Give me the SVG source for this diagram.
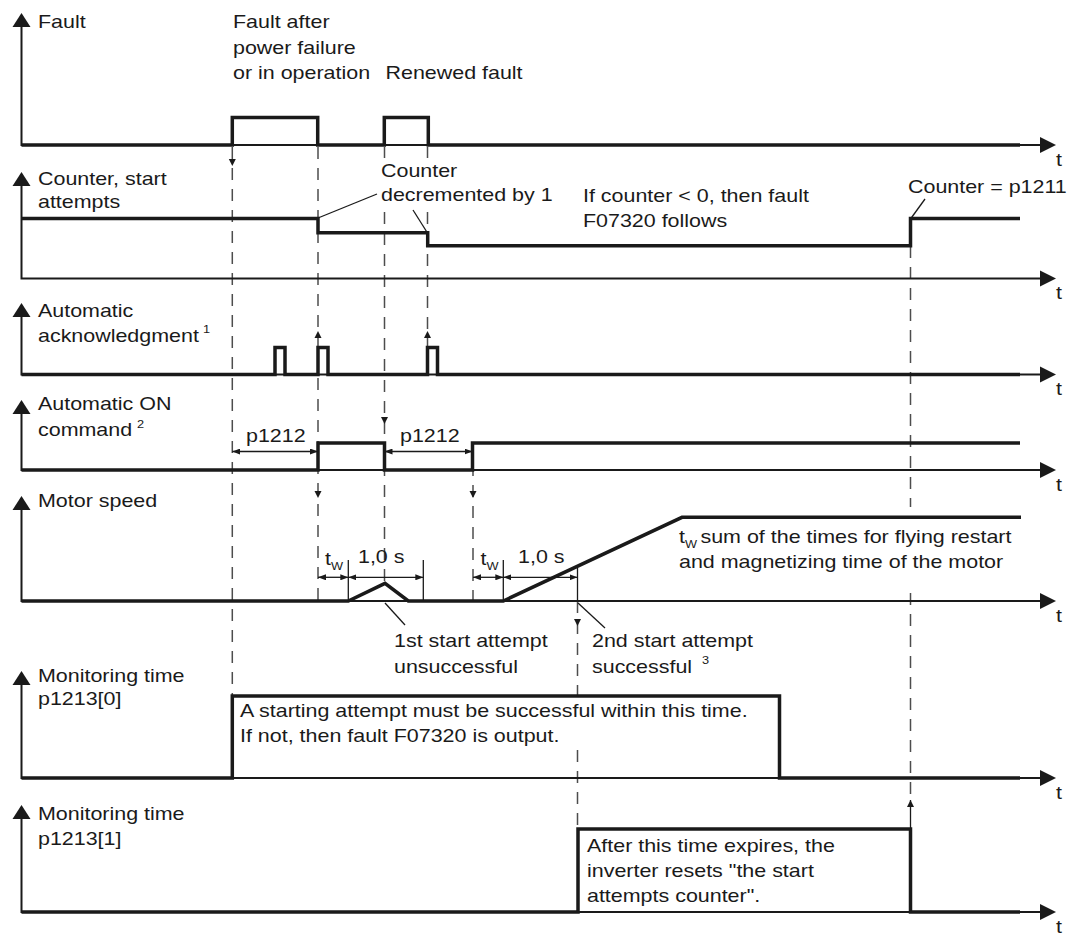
<svg xmlns="http://www.w3.org/2000/svg" width="1077" height="939" viewBox="0 0 1077 939">
<defs>
<marker id="da" viewBox="0 0 8 6" refX="8" refY="3" markerWidth="8" markerHeight="6" markerUnits="userSpaceOnUse" orient="auto-start-reverse">
<path d="M0,0 L8,3 L0,6 z" fill="#1a1a1a"/>
</marker>
</defs>
<style>
text{font-family:"Liberation Sans",Arial,Helvetica,sans-serif;font-size:18.5px;fill:#1a1a1a;transform-box:fill-box;transform-origin:0 0;transform:scaleX(1.16)}
.axis{fill:none;stroke:#1a1a1a;stroke-width:2}
.sig{fill:none;stroke:#1a1a1a;stroke-width:3.5;stroke-linejoin:miter;stroke-linecap:butt}
.dash{fill:none;stroke:#4d4d4d;stroke-width:1.5;stroke-dasharray:12 9}
.thin{fill:none;stroke:#1a1a1a;stroke-width:1.3}
.dim{fill:none;stroke:#1a1a1a;stroke-width:1.3;marker-start:url(#da);marker-end:url(#da)}
.head{fill:#1a1a1a;stroke:none}
.sub{font-size:11px}
.sup{font-size:11px}
</style>

<g id="connectors">
<path class="dash" d="M232.3,147 V696"/>
<path class="dash" d="M318,147 V601"/>
<path class="dash" d="M384.5,147 V158 M384.5,212 V583"/>
<path class="dash" d="M427.5,147 V158 M427.5,212 V347"/>
<path class="dash" d="M473,443 V601"/>
<path class="dash" d="M577.5,601 V698 M577.5,750 V829"/>
<path class="dash" d="M910.5,246 V507 M910.5,593 V800"/>
<path class="thin" d="M910.5,800 V829"/>
<path class="head" d="M228.8,159 h7 l-3.5,7 z"/>
<path class="head" d="M314.5,338 h7 l-3.5,-7 z"/>
<path class="head" d="M424,338 h7 l-3.5,-7 z"/>
<path class="head" d="M381,417 h7 l-3.5,7 z"/>
<path class="head" d="M314.5,491 h7 l-3.5,7 z"/>
<path class="head" d="M469.5,491 h7 l-3.5,7 z"/>
<path class="head" d="M574,619 h7 l-3.5,7 z"/>
<path class="head" d="M907,807 h7 l-3.5,-7 z"/>
<path class="thin" d="M318,218 L377,194"/>
<path class="thin" d="M427.5,233 L413,210"/>
<path class="thin" d="M910.5,219 L925,199"/>
<path class="thin" d="M385,603 L405,625"/>
<path class="thin" d="M578,603 L605,628"/>
</g>

<g id="fault">
<path class="axis" d="M21.5,25 V145 H1042"/>
<path class="head" d="M21.5,13 l9,14 h-18 z"/>
<path class="head" d="M1056,145 l-16,-8 v16 z"/>
<path class="sig" d="M21.5,145 H232.3 V117.5 H317.7 V145 H384.3 V117.5 H428.3 V145 H1020"/>
<text x="38" y="28.5">Fault</text>
<text x="233" y="28.5">Fault after</text>
<text x="233" y="54">power failure</text>
<text x="233" y="79.5">or in operation</text>
<text x="385.5" y="79.5">Renewed fault</text>
<text x="1056" y="166">t</text>
</g>

<g id="counter">
<path class="axis" d="M21.5,185 V278.5 H1042"/>
<path class="head" d="M21.5,172 l9,14 h-18 z"/>
<path class="head" d="M1056,278.5 l-16,-8 v16 z"/>
<path class="sig" d="M21.5,218.5 H318 V232.7 H427.7 V245.7 H910.5 V218.5 H1020"/>
<text x="38" y="185">Counter, start</text>
<text x="38" y="208">attempts</text>
<text x="381" y="177">Counter</text>
<text x="381" y="201">decremented by 1</text>
<text x="583" y="202">If counter &lt; 0, then fault</text>
<text x="583" y="227">F07320 follows</text>
<text x="908" y="193">Counter = p1211</text>
<text x="1056" y="299">t</text>
</g>

<g id="acknowledgment">
<path class="axis" d="M21.5,316 V374.5 H1042"/>
<path class="head" d="M21.5,303 l9,14 h-18 z"/>
<path class="head" d="M1056,374.5 l-16,-8 v16 z"/>
<path class="sig" d="M21.5,374.5 H275 V347.5 H285 V374.5 H318 V347.5 H328 V374.5 H427.5 V347.5 H437.5 V374.5 H1020"/>
<text x="38" y="317">Automatic</text>
<text x="38" y="342">acknowledgment</text>
<text class="sup" x="203" y="333">1</text>
<text x="1056" y="395">t</text>
</g>

<g id="on-command">
<path class="axis" d="M21.5,413 V470 H1042"/>
<path class="head" d="M21.5,400 l9,14 h-18 z"/>
<path class="head" d="M1056,470 l-16,-8 v16 z"/>
<path class="sig" d="M21.5,470 H318 V443 H384.5 V470 H472.5 V443 H1020"/>
<path class="dim" d="M232.3,451.5 H318"/>
<path class="dim" d="M384.5,451.5 H472.5"/>
<text x="38" y="410">Automatic ON</text>
<text x="38" y="436">command</text>
<text class="sup" x="137" y="428">2</text>
<text x="246" y="442">p1212</text>
<text x="400" y="442">p1212</text>
<text x="1056" y="491">t</text>
</g>

<g id="motor-speed">
<path class="axis" d="M21.5,509 V601 H1042"/>
<path class="head" d="M21.5,496 l9,14 h-18 z"/>
<path class="head" d="M1056,601 l-16,-8 v16 z"/>
<path class="sig" d="M21.5,601 H348.3 L385,583.3 L408.3,601 H503.3 L682,517.3 H1021"/>
<path class="thin" d="M348.3,560 V601 M423.3,560 V601 M503.3,560 V601 M577.5,568 V601"/>
<path class="dim" d="M318,577.3 H348.3"/>
<path class="dim" d="M348.3,577.3 H423.3"/>
<path class="dim" d="M473,577.3 H503.3"/>
<path class="dim" d="M503.3,577.3 H577.5"/>
<text x="38" y="507">Motor speed</text>
<text x="325" y="565">t<tspan class="sub" dy="5">W</tspan></text>
<text x="358" y="563">1,0 s</text>
<text x="480.5" y="565">t<tspan class="sub" dy="5">W</tspan></text>
<text x="518" y="563">1,0 s</text>
<text x="394" y="647">1st start attempt</text>
<text x="394" y="673">unsuccessful</text>
<text x="592" y="647">2nd start attempt</text>
<text x="592" y="673">successful</text>
<text class="sup" x="702" y="664">3</text>
<text x="679" y="543">t<tspan class="sub" dy="5">W</tspan><tspan dy="-5" dx="3">sum of the times for flying restart</tspan></text>
<text x="679" y="568">and magnetizing time of the motor</text>
<text x="1056" y="622">t</text>
</g>

<g id="monitoring-0">
<path class="axis" d="M21.5,684 V778 H1042"/>
<path class="head" d="M21.5,671 l9,14 h-18 z"/>
<path class="head" d="M1056,778 l-16,-8 v16 z"/>
<path class="sig" d="M21.5,778 H232.3 V696 H779.5 V778 H1020"/>
<text x="38" y="682">Monitoring time</text>
<text x="38" y="705">p1213[0]</text>
<text x="240" y="717">A starting attempt must be successful within this time.</text>
<text x="240" y="742">If not, then fault F07320 is output.</text>
<text x="1056" y="799">t</text>
</g>

<g id="monitoring-1">
<path class="axis" d="M21.5,818 V912 H1042"/>
<path class="head" d="M21.5,805 l9,14 h-18 z"/>
<path class="head" d="M1056,912 l-16,-8 v16 z"/>
<path class="sig" d="M21.5,912 H578 V829 H910.5 V912 H1020"/>
<text x="38" y="820">Monitoring time</text>
<text x="38" y="845">p1213[1]</text>
<text x="587" y="852">After this time expires, the</text>
<text x="587" y="877">inverter resets "the start</text>
<text x="587" y="902">attempts counter".</text>
<text x="1056" y="933">t</text>
</g>
</svg>
